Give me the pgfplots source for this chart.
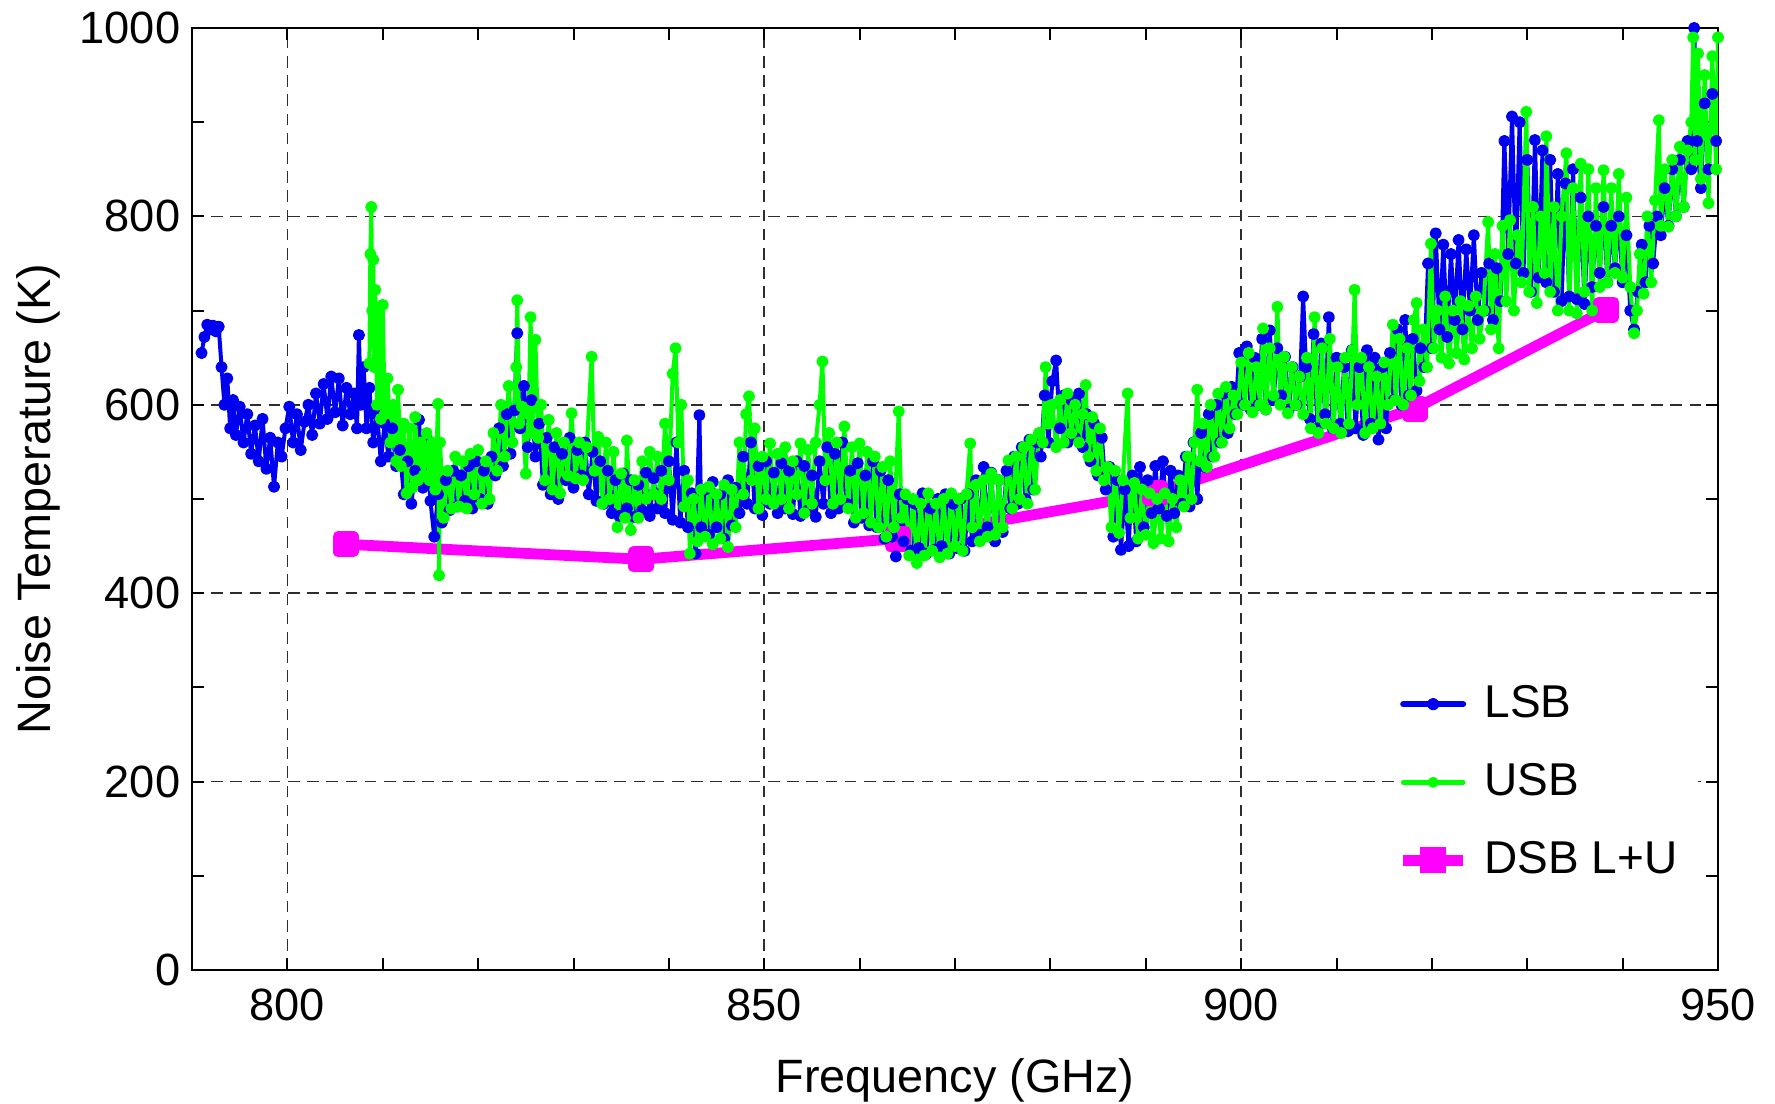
\documentclass[border=0pt]{standalone}
\usepackage{pgfplots}
\usepackage{pgfplotstable}
\pgfplotsset{compat=1.18}
\usepackage{fontspec}
\setmainfont{Liberation Sans}

\definecolor{lsbblue}{RGB}{0,0,240}
\definecolor{usbgreen}{RGB}{0,255,0}
\definecolor{dsbmag}{RGB}{255,0,255}
\definecolor{gridgray}{RGB}{45,45,45}

% DSB (L+U) measurements
\pgfplotstableread{
x y
806.1 452
837.1 436
864.0 458
891.0 506
918.2 596
938.3 701
}\dsbdata

% Lower side band noise temperature
\pgfplotstableread{
x y
791.0 655
791.3 672
791.6 685
791.9 680
792.2 684
792.5 678
792.8 683
793.1 640
793.4 600
793.7 628
794.0 575
794.3 605
794.6 568
795.0 598
795.4 560
795.8 590
796.2 548
796.6 578
797.0 540
797.4 585
797.8 532
798.2 565
798.6 513
799.0 560
799.4 545
799.8 575
800.2 598
800.6 560
801.0 590
801.4 552
801.8 582
802.2 600
802.6 568
803.0 612
803.4 580
803.8 622
804.2 585
804.6 630
805.0 592
805.4 628
805.8 578
806.2 618
806.6 590
807.0 612
807.3 575
807.5 674
807.7 600
808.0 640
808.3 575
808.6 618
809.0 560
809.4 590
809.8 540
810.2 580
810.6 545
811.0 575
811.4 535
811.8 552
812.2 505
812.6 540
813.0 495
813.4 530
813.8 584
814.2 512
814.6 565
815.0 498
815.4 460
815.8 505
816.2 475
816.6 520
817.0 488
817.4 530
817.8 492
818.2 525
818.6 498
819.0 535
819.4 490
819.8 540
820.2 500
820.6 530
821.0 495
821.4 545
821.8 525
822.2 575
822.6 535
823.0 590
823.4 548
823.8 594
824.1 676
824.4 575
824.8 620
825.2 555
825.6 605
826.0 545
826.4 580
826.8 515
827.2 565
827.6 505
828.0 555
828.4 500
828.8 548
829.2 520
829.6 565
830.0 512
830.4 552
830.8 525
831.2 560
831.6 505
832.0 550
832.4 498
832.8 540
833.2 495
833.6 530
834.0 485
834.4 520
834.8 482
835.2 527
835.6 490
836.0 520
836.4 481
836.8 515
837.2 488
837.6 528
838.0 482
838.4 522
838.8 490
839.2 530
839.6 485
840.0 540
840.4 478
840.8 560
841.2 475
841.6 530
842.0 470
842.4 506
842.8 442
843.2 589
843.4 470
843.8 510
844.2 462
844.6 518
845.0 470
845.4 505
845.8 458
846.2 520
846.6 472
847.0 512
847.4 485
847.8 545
848.2 495
848.6 560
849.0 490
849.4 535
849.8 483
850.2 540
850.6 495
851.0 528
851.4 485
851.8 538
852.2 490
852.6 530
853.0 484
853.4 540
853.8 482
854.2 535
854.6 488
855.0 525
855.4 481
855.8 540
856.2 495
856.6 555
857.0 485
857.4 548
857.8 490
858.2 560
858.6 495
859.0 530
859.4 475
859.8 538
860.2 480
860.6 525
861.0 472
861.4 540
861.8 470
862.2 530
862.6 458
863.0 520
863.4 460
863.8 439
864.2 505
864.6 455
865.0 500
865.4 445
865.8 495
866.2 448
866.6 506
867.0 442
867.4 490
867.8 446
868.2 500
868.6 450
869.0 505
869.4 442
869.8 495
870.2 448
870.6 500
871.0 445
871.4 505
871.8 455
872.2 520
872.6 462
873.0 534
873.4 470
873.8 528
874.2 455
874.6 520
875.0 465
875.4 530
875.8 490
876.2 545
876.6 495
877.0 555
877.4 500
877.8 563
878.2 510
878.6 560
879.0 545
879.4 610
879.8 560
880.2 625
880.6 647
881.0 575
881.4 610
881.8 560
882.2 605
882.6 565
883.0 612
883.4 555
883.8 590
884.2 540
884.6 580
885.0 525
885.4 565
885.8 510
886.2 534
886.6 460
887.0 520
887.4 446
887.8 510
888.2 450
888.6 525
889.0 455
889.4 534
889.8 470
890.2 520
890.6 485
891.0 535
891.4 490
891.8 540
892.2 482
892.6 530
893.0 485
893.4 525
893.8 495
894.2 545
894.6 492
895.0 560
895.4 500
895.8 570
896.2 534
896.6 590
897.0 545
897.4 600
897.8 560
898.2 612
898.6 570
899.0 619
899.4 590
899.8 655
900.2 600
900.6 662
901.0 595
901.4 650
901.8 600
902.2 670
902.6 595
903.0 679
903.4 605
903.8 660
904.2 610
904.6 651
905.0 595
905.4 640
905.8 600
906.2 630
906.5 715
906.8 640
907.2 585
907.6 675
908.0 575
908.4 665
908.8 590
909.2 693
909.6 575
910.0 650
910.4 580
910.8 640
911.2 572
911.6 658
912.0 575
912.4 640
912.8 568
913.2 658
913.6 580
914.0 650
914.4 563
914.8 640
915.2 575
915.6 655
916.0 605
916.4 680
916.8 600
917.2 690
917.6 610
918.0 670
918.4 615
918.8 660
919.2 640
919.6 750
920.0 660
920.4 782
920.8 680
921.2 770
921.6 672
922.0 760
922.4 690
922.8 775
923.2 680
923.6 765
924.0 700
924.4 780
924.8 690
925.2 740
925.6 700
926.0 750
926.4 690
926.8 745
927.2 710
927.6 880
928.0 760
928.4 906
928.8 750
929.2 900
929.6 740
930.0 860
930.4 720
930.8 881
931.2 735
931.6 870
932.0 730
932.4 860
932.8 720
933.2 845
933.6 710
934.0 835
934.4 715
934.8 850
935.2 712
935.6 820
936.0 707
936.4 800
936.8 725
937.2 790
937.6 740
938.0 810
938.4 730
938.8 790
939.2 745
939.6 800
940.0 730
940.4 780
940.8 700
941.2 680
941.6 720
942.0 770
942.4 730
942.8 790
943.2 750
943.6 800
944.0 780
944.4 830
944.8 790
945.2 850
945.6 800
946.0 860
946.4 810
946.8 880
947.2 850
947.5 1000
947.8 880
948.2 830
948.6 920
949.0 850
949.4 930
949.8 880
}\lsbdata

% Upper side band noise temperature
\pgfplotstableread{
x y
808.6 644
808.7 760
808.8 810
808.9 700
809.0 754
809.1 640
809.2 722
809.4 600
809.6 704
809.8 585
810.0 706
810.2 590
810.5 628
810.8 560
811.1 600
811.4 540
811.6 616
811.9 535
812.2 580
812.5 506
812.8 575
813.1 512
813.4 587
813.7 520
814.0 560
814.3 525
814.6 570
814.9 520
815.2 560
815.5 510
815.8 601
815.9 419
816.0 560
816.4 480
816.8 530
817.2 490
817.6 545
818.0 492
818.4 540
818.8 490
819.2 548
819.6 505
820.0 552
820.4 495
820.8 540
821.2 500
821.6 570
822.0 530
822.4 600
822.8 545
823.2 620
823.6 560
824.0 640
824.1 711
824.3 580
824.6 598
825.0 527
825.3 590
825.5 693
825.7 570
826.0 669
826.3 565
826.6 600
827.0 520
827.4 584
827.8 510
828.2 570
828.6 506
829.0 560
829.4 525
829.8 591
830.2 522
830.6 560
831.0 520
831.4 555
831.9 651
832.2 530
832.6 566
833.0 495
833.4 560
833.8 500
834.2 550
834.6 470
835.0 527
835.4 480
835.6 562
836.0 467
836.4 520
836.8 480
837.2 540
837.6 500
838.0 550
838.4 505
838.8 545
839.2 500
839.6 580
840.0 520
840.4 633
840.7 660
841.0 560
841.3 600
841.6 492
842.0 520
842.2 442
842.6 500
843.0 455
843.4 510
843.8 460
844.2 513
844.6 452
845.0 505
845.4 458
845.8 515
846.2 449
846.6 510
847.0 470
847.4 560
847.8 505
848.1 590
848.4 609
848.7 520
849.0 575
849.4 490
849.8 545
850.2 500
850.6 559
851.0 495
851.4 548
851.8 500
852.2 555
852.6 490
853.0 540
853.4 505
853.8 559
854.2 485
854.6 552
855.0 495
855.4 560
855.8 600
856.1 646
856.4 520
856.8 570
857.2 495
857.6 560
858.0 500
858.4 577
858.8 490
859.2 555
859.6 480
860.0 559
860.4 485
860.8 550
861.2 475
861.6 545
862.0 470
862.4 534
862.8 460
863.2 540
863.6 470
864.1 593
864.4 480
864.8 505
865.2 440
865.6 500
866.0 432
866.4 495
866.8 440
867.2 506
867.6 445
868.0 495
868.4 438
868.8 500
869.2 442
869.6 506
870.0 450
870.4 500
870.8 445
871.2 505
871.6 559
871.8 470
872.2 515
872.6 455
873.0 520
873.4 460
873.8 527
874.2 462
874.6 520
875.0 470
875.6 541
876.0 490
876.4 545
876.8 500
877.2 555
877.6 495
878.0 563
878.4 510
878.8 570
879.2 560
879.5 640
879.8 580
880.2 600
880.6 555
881.0 605
881.4 560
881.8 612
882.2 570
882.6 600
883.0 560
883.4 590
883.7 621
884.0 545
884.4 587
884.8 530
885.2 575
885.6 520
886.0 534
886.4 470
886.8 530
887.2 464
887.6 520
888.1 612
888.4 480
888.8 517
889.2 458
889.6 510
890.0 462
890.4 506
890.8 453
891.2 500
891.6 458
892.0 506
892.4 455
892.8 500
893.2 470
893.6 520
894.0 492
894.4 545
894.8 500
895.1 560
895.4 616
895.7 540
896.0 580
896.4 534
896.8 600
897.2 545
897.6 612
898.0 560
898.4 619
898.8 575
899.2 610
899.6 590
900.0 645
900.4 600
900.8 655
901.2 592
901.6 640
902.0 600
902.3 681
902.6 595
903.0 660
903.4 610
903.8 704
904.1 600
904.5 651
904.9 591
905.3 640
905.7 600
906.1 630
906.5 590
906.9 650
907.3 575
907.7 693
908.1 570
908.5 660
908.9 580
909.3 670
909.7 575
910.1 640
910.5 570
910.9 650
911.3 580
911.7 658
911.9 722
912.2 600
912.6 650
913.0 570
913.4 640
913.8 575
914.2 630
914.6 580
915.0 645
915.4 600
915.9 685
916.2 605
916.6 670
917.0 600
917.4 660
917.8 610
918.1 690
918.4 708
918.7 625
919.1 680
919.5 640
919.9 771
920.2 660
920.6 700
921.0 650
921.4 715
921.8 644
922.2 700
922.6 655
923.0 710
923.4 648
923.8 705
924.2 660
924.6 715
925.0 670
925.4 700
925.9 794
926.2 680
926.6 760
927.0 660
927.4 790
927.8 710
928.2 796
928.6 700
929.0 780
929.4 730
929.9 911
930.2 720
930.6 810
931.0 708
931.4 800
931.8 740
932.0 885
932.4 720
932.8 810
933.2 700
933.6 800
934.1 867
934.4 700
934.8 830
935.2 697
935.6 856
936.0 720
936.4 850
936.8 700
937.2 830
937.6 725
938.0 849
938.4 730
938.8 830
939.2 740
939.6 845
940.0 735
940.4 820
940.8 725
941.2 676
941.5 700
941.8 760
942.2 718
942.6 800
943.0 730
943.4 817
943.8 902
944.0 790
944.4 850
944.8 789
945.2 860
945.6 800
946.0 874
946.4 810
946.8 870
947.2 900
947.4 990
947.6 860
947.9 973
948.2 840
948.6 950
949.0 814
949.4 970
949.8 850
950.0 990
}\usbdata

\begin{document}
\begin{tikzpicture}
\begin{axis}[
  scale only axis,
  width=381.5pt, height=235.5pt,
  at={(0,0)}, anchor=south west,
  xmin=790, xmax=950, ymin=0, ymax=1000,
  xtick={800,850,900,950}, minor x tick num=4,
  ytick={0,200,400,600,800,1000}, minor y tick num=1,
  tick align=inside,
  major tick length=3pt, minor tick length=3pt,
  every tick/.style={black, line width=0.5pt},
  axis line style={black, line width=0.6pt},
  xmajorgrids, ymajorgrids,
  major grid style={gridgray, line width=0.4pt, dash pattern=on 2.9pt off 1.9pt},
  /pgf/number format/assume math mode=true,
  /pgf/number format/1000 sep={},
  ticklabel style={font=\fontsize{11.3}{13}\selectfont},
  xticklabel style={inner sep=0pt, anchor=north, yshift=-4.5pt},
  yticklabel style={inner sep=0pt, anchor=east, xshift=-2.75pt},
  xlabel={Frequency (GHz)},
  ylabel={Noise Temperature (K)},
  label style={font=\fontsize{11.7}{14}\selectfont},
  xlabel style={at={(axis description cs:0.5,0)}, anchor=base, yshift=-30.5pt, inner sep=0pt},
  ylabel style={at={(axis description cs:-0.0924,0.5)}, anchor=base, inner sep=0pt},
  legend style={at={(rel axis cs:0.787,0.316)}, anchor=north west, draw=none, fill=white,
    inner sep=1pt, row sep=6pt, font=\fontsize{11.5}{13}\selectfont,
    nodes={inner xsep=4pt}},
  legend cell align=left,
  legend image code/.code={\draw[mark repeat=2,mark phase=2,#1] plot coordinates {(0pt,0pt)(7.5pt,0pt)(15pt,0pt)};},
]
% DSB curve first, so the side band traces sit over it
\addplot[dsbmag, line width=2.7pt, line join=round, mark=square*, mark size=1.9pt, mark options={solid}, forget plot] table {\dsbdata};

\addplot[lsbblue, line width=1.0pt, line join=round, line cap=round, mark=*, mark size=1.0pt, mark options={fill=lsbblue, draw=lsbblue},
  legend image post style={line width=1.5pt, mark size=0.8pt}] table {\lsbdata};
\addlegendentry{LSB}

\addplot[usbgreen, line width=1.0pt, line join=round, line cap=round, mark=*, mark size=1.0pt, mark options={fill=usbgreen, draw=usbgreen},
  legend image post style={line width=1.1pt, mark size=0.8pt}] table {\usbdata};
\addlegendentry{USB}

\addlegendimage{dsbmag, line width=2.7pt, mark=square*, mark size=1.9pt}
\addlegendentry{DSB L+U}
\end{axis}
\pgfresetboundingbox
\path (-48pt,-33.25pt) rectangle (395.75pt,242.5pt);
\end{tikzpicture}
\end{document}
